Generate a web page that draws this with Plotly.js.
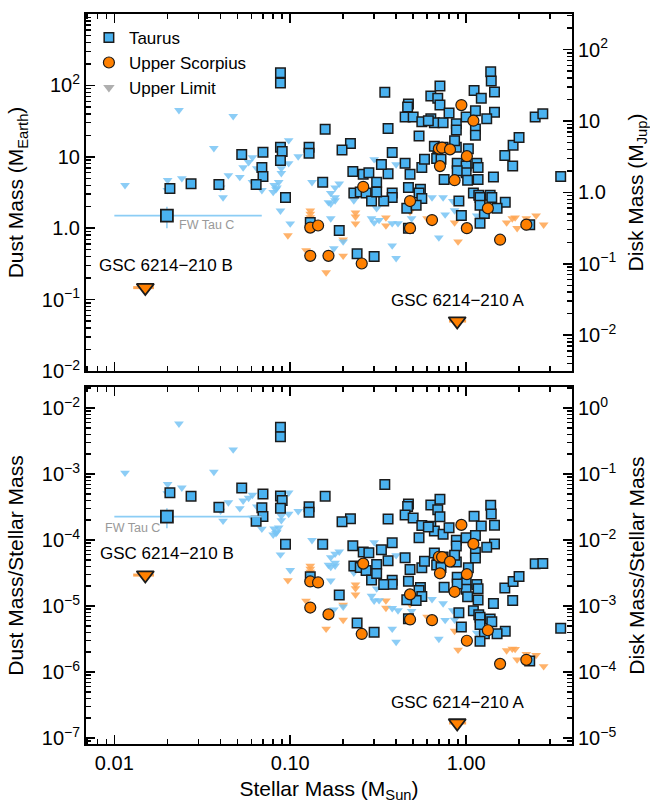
<!DOCTYPE html>
<html><head><meta charset="utf-8">
<script src="https://cdn.plot.ly/plotly-3.0.1.min.js"></script>
<style>html,body{margin:0;padding:0;background:#fff}#chart{width:650px;height:806px}</style>
</head><body><div id="chart"></div>
<script>
// ---------- data (stellar mass in M_Sun, dust mass in M_Earth) ----------
const taurusMass = [0.0207,0.0273,0.0393,0.053,0.070,0.069,0.070,0.064,0.088,0.088,0.088,0.090,0.088,0.094,0.128,0.128,0.158,0.153,0.130,0.190,0.240,0.300,0.220,0.197,0.227,0.260,0.280,0.310,0.360,0.330,0.380,0.230,0.250,0.345,0.470,0.465,0.360,0.380,0.450,0.500,0.560,0.630,0.660,0.740,0.880,0.880,0.630,0.690,0.710,0.710,0.800,1.00,1.11,1.22,1.38,1.39,1.45,1.13,1.45,1.31,2.47,2.73,1.13,1.13,0.54,0.66,0.74,0.88,1.03,0.69,0.89,1.66,1.84,1.85,2.00,3.45,0.45,0.48,0.56,0.58,0.68,1.00,1.15,1.17,1.00,0.89,0.47,0.55,0.54,0.75,1.02,1.17,1.43,1.10,1.18,1.37,0.27,0.56,0.46,0.52,0.38,0.34,0.29,0.31,0.91,0.94,1.20,1.40,1.67,1.50,1.27,1.20,1.20,2.30,0.47,0.86,0.61,0.72];
const taurusDust = [3.6,4.2,4.1,10.8,11.6,7.1,5.3,4.1,150,108,13.6,11.9,8.9,2.7,13.6,11.2,24.3,4.4,1.2,0.93,0.44,0.40,15.4,12.4,6.2,5.7,6.0,4.4,5.8,7.8,3.1,3.1,3.2,80,55,50,25,11.5,36,36,31,34,30,30,29,23.7,71,66,98,53,41,36,85,66,155,115,81,44,42,34,36,40,24.5,20,19.5,14,13.6,13.6,13,10,8.1,10.4,7.4,14.5,18.7,5.3,8.1,5.7,7.1,9.2,9.5,7.4,8.1,7.1,6.0,6.4,3.7,3.5,3.1,4.8,4.7,4.8,5.2,3.1,2.9,2.9,3.1,2.6,1.9,2.1,2.7,2.4,2.4,3.2,2.4,1.5,2.7,2.7,2.3,1.9,1.6,2.1,1.17,1.12,1.0,16.8,32,9.2];

const uscoMass = [0.94,1.10,0.70,0.73,0.81,1.01,0.71,0.86,0.26,0.48,1.33,0.64,0.48,1.01,1.56,2.20,0.130,0.144,0.130,0.165,0.255];
const uscoDust = [53,32,13,13.4,12.7,10.2,7.4,4.7,3.8,2.4,1.9,1.3,1.0,1.0,0.69,1.12,1.02,1.09,0.41,0.41,0.32];

const taurusLimMass = [0.0233,0.0474,0.0115,0.0201,0.0242,0.0368,0.0200,0.0402,0.0415,0.0445,0.0517,0.054,0.058,0.061,0.0646,0.069,0.081,0.086,0.089,0.089,0.098,0.098,0.111,0.133,0.061,0.084,0.080,0.083,0.088,0.100,0.165,0.180,0.190,0.170,0.200,0.177,0.230,0.250,0.290,0.640,0.740,0.840,0.860,0.760,0.490,0.410,0.310,0.300,0.700,0.380,0.400,1.15,0.32,0.38,0.17,0.30,0.32,0.40,0.18,0.17,0.18,1.60];
const taurusLimDust = [45,37,4.0,4.7,5.0,13.2,3.4,3.7,2.7,5.5,5.2,7.1,8.4,9.8,6.9,3.4,4.0,4.4,5.9,6.9,8.1,17,10.1,4.4,4.4,3.7,3.2,3.5,1.76,1.16,2.3,2.45,4.2,1.37,0.65,0.52,2.45,0.30,1.37,2.7,2.7,2.4,1.77,1.55,1.37,1.17,1.9,1.2,0.74,0.57,0.38,1.5,1.3,1.17,2.2,9.2,8.3,7.8,3.7,3.1,2.7,2.1];

const uscoLimMass = [0.130,0.130,0.130,0.097,0.123,0.160,0.200,0.235,0.235,0.235,0.200,0.350,0.350,0.600,0.860,0.900,1.70,1.83,1.90,1.95,2.50,2.76,2.20,0.48];
const uscoLimDust = [1.76,1.58,1.42,0.79,0.49,0.24,0.41,1.65,1.45,1.16,0.69,1.41,1.09,1.37,1.20,0.65,1.20,1.37,1.41,1.00,1.50,1.12,1.37,1.7];

// FW Tau C (Taurus, with error bars)
const fwMass = [0.0199];
const fwDust = [1.5];
const fwMassErrMinus = [0.0099];
const fwMassErrPlus = [0.049];
const fwDustErr = [0.5];

// GSC 6214-210 B and A (Upper Scorpius upper limits)
const gscNames = ['GSC 6214\u2212210 B','GSC 6214\u2212210 A'];
const gscMass = [0.015,0.89];
const gscDust = [0.147,0.05];
const gscMassErrMinus = [0.0022,0.09];
const gscMassErrPlus = [0.0018,0.11];

const EARTH_PER_SUN = 3.003e-6;   // M_Earth / M_Sun
const DISK_PER_DUST_JUP = 100/317.83; // gas-to-dust 100, M_Earth -> M_Jup

const ratio = (dust, mass) => dust.map((d,i)=> d*EARTH_PER_SUN/mass[i]);

// ---------- styles ----------
const C_TAU = 'rgb(74,178,240)';
const C_TAU_LIM = 'rgba(120,196,245,0.85)';
const C_USC = 'rgb(255,128,0)';
const C_USC_LIM = 'rgba(255,165,80,0.85)';
const EDGE = '#1b1b1b';

const traces = [];
function addPair(mass, dust, marker, legend, extraTop, extraBot){
  traces.push(Object.assign({type:'scatter', mode:'markers', x:mass, y:dust, xaxis:'x2', yaxis:'y',
    marker:marker, hoverinfo:'skip', showlegend:!!legend, name:legend||''}, extraTop||{}));
  traces.push(Object.assign({type:'scatter', mode:'markers', x:mass, y:ratio(dust,mass), xaxis:'x', yaxis:'y3',
    marker:marker, hoverinfo:'skip', showlegend:false}, extraBot||{}));
}

addPair(uscoLimMass, uscoLimDust, {symbol:'triangle-down', size:8.5, color:C_USC_LIM, line:{width:0}});
addPair(taurusLimMass, taurusLimDust, {symbol:'triangle-down', size:8.5, color:C_TAU_LIM, line:{width:0}});
addPair(taurusMass, taurusDust, {symbol:'square', size:9.5, color:C_TAU, line:{color:EDGE, width:1.5}}, 'Taurus');
addPair(uscoMass, uscoDust, {symbol:'circle', size:11, color:C_USC, line:{color:EDGE, width:1.2}}, 'Upper Scorpius');

// FW Tau C
const fwRatioErr = fwDustErr.map((e,i)=> e*EARTH_PER_SUN/fwMass[i]);
const fwErrColor = 'rgb(140,205,245)';
addPair(fwMass, fwDust, {symbol:'square', size:12, color:C_TAU, line:{color:EDGE, width:1.8}}, null,
  {error_x:{type:'data', symmetric:false, array:fwMassErrPlus, arrayminus:fwMassErrMinus, color:fwErrColor, thickness:1.8, width:0},
   error_y:{type:'data', array:fwDustErr, color:fwErrColor, thickness:1.5, width:0}},
  {error_x:{type:'data', symmetric:false, array:fwMassErrPlus, arrayminus:fwMassErrMinus, color:fwErrColor, thickness:1.8, width:0},
   error_y:{type:'data', array:fwRatioErr, color:fwErrColor, thickness:1.5, width:0}});

// GSC 6214-210
const gscErr = {type:'data', symmetric:false, array:gscMassErrPlus, arrayminus:gscMassErrMinus, color:'rgb(255,165,80)', thickness:3, width:0};
addPair(gscMass, gscDust, {symbol:'triangle-down', size:15, color:C_USC, line:{color:EDGE, width:1.8}}, null,
  {error_x:gscErr}, {error_x:gscErr});

// legend-only entry
traces.push({type:'scatter', mode:'markers', x:[null], y:[null], xaxis:'x2', yaxis:'y', name:'Upper Limit',
  marker:{symbol:'triangle-down', size:10, color:'rgb(175,175,175)'}, showlegend:true, hoverinfo:'skip'});
// anchor traces for the right-hand axes
traces.push({type:'scatter', mode:'markers', x:[], y:[], xaxis:'x2', yaxis:'y2', showlegend:false, hoverinfo:'skip'});
traces.push({type:'scatter', mode:'markers', x:[], y:[], xaxis:'x', yaxis:'y4', showlegend:false, hoverinfo:'skip'});

// ---------- axes ----------
const FONT = '"Liberation Sans", Arial, Helvetica, sans-serif';
function minorVals(lo, hi){ const v=[]; for(let e=lo;e<=hi;e++){ for(let d=2; d<=9; d++){ v.push(d*Math.pow(10,e)); } } return v; }
function pow10Label(e){ return e===0 ? '10<sup>0</sup>' : '10<sup>' + (e<0 ? '\u2212'+(-e) : e) + '</sup>'; }
const common = {type:'log', showline:true, linecolor:'#000', linewidth:2, ticks:'inside', ticklen:9, tickwidth:1.6, tickcolor:'#000',
  showgrid:false, zeroline:false, tickfont:{family:FONT, size:20, color:'#000'}, tickmode:'array'};
const minorStyle = (vals)=>({ticks:'inside', ticklen:5, tickwidth:1.4, tickcolor:'#000', showgrid:false, tickmode:'array', tickvals:vals});

const xRange = [Math.log10(0.0069), Math.log10(4.0)];
const xTickVals = [0.01, 0.1, 1];
const xTickText = ['0.01','0.10','1.00'];

const topLeftVals = [0.01,0.1,1,10,100,1000];
const topLeftText = [pow10Label(-2), pow10Label(-1), '1.0', '10', pow10Label(2), pow10Label(3)];
const topRightVals = [0.01,0.1,1,10,100];
const topRightText = [pow10Label(-2), pow10Label(-1), '1.0', '10', pow10Label(2)];
const botLeftExp = [-7,-6,-5,-4,-3,-2];
const botRightExp = [-5,-4,-3,-2,-1,0];

const topRange = [-2, 3];
const botRange = [-7.091, -1.682];

const layout = {
  width:650, height:806,
  margin:{l:86, r:78, t:14, b:62},
  paper_bgcolor:'#fff', plot_bgcolor:'#fff',
  font:{family:FONT, color:'#000'},
  showlegend:true,
  legend:{x:0.006, y:0.992, xanchor:'left', yanchor:'top', bgcolor:'rgba(0,0,0,0)', borderwidth:0,
    font:{family:FONT, size:17, color:'#000'}, tracegroupgap:0, traceorder:'normal'},
  xaxis: Object.assign({}, common, {domain:[0,1], anchor:'y3', range:xRange, mirror:'ticks',
    tickvals:xTickVals, ticktext:xTickText, minor:minorStyle(minorVals(-3,0)),
    title:{text:'Stellar Mass (M<sub>Sun</sub>)', font:{family:FONT, size:21, color:'#000'}, standoff:8}}),
  xaxis2: Object.assign({}, common, {domain:[0,1], anchor:'y', range:xRange, mirror:'ticks', showticklabels:false,
    tickvals:xTickVals, minor:minorStyle(minorVals(-3,0))}),
  yaxis: Object.assign({}, common, {domain:[0.511,1], anchor:'x2', range:topRange, mirror:true,
    tickvals:topLeftVals, ticktext:topLeftText, minor:minorStyle(minorVals(-2,2)),
    title:{text:'Dust Mass (M<sub>Earth</sub>)', font:{family:FONT, size:21, color:'#000'}, standoff:12}}),
  yaxis2: Object.assign({}, common, {overlaying:'y', side:'right', anchor:'x2',
    range:[Math.log10(1e-2*DISK_PER_DUST_JUP), Math.log10(1e3*DISK_PER_DUST_JUP)],
    tickvals:topRightVals, ticktext:topRightText, minor:minorStyle(minorVals(-3,2)),
    title:{text:'Disk Mass (M<sub>Jup</sub>)', font:{family:FONT, size:21, color:'#000'}, standoff:14}}),
  yaxis3: Object.assign({}, common, {domain:[0,0.489], anchor:'x', range:botRange, mirror:true,
    tickvals:botLeftExp.map(e=>Math.pow(10,e)), ticktext:botLeftExp.map(pow10Label), minor:minorStyle(minorVals(-8,-2)),
    title:{text:'Dust Mass/Stellar Mass', font:{family:FONT, size:21, color:'#000'}, standoff:12}}),
  yaxis4: Object.assign({}, common, {overlaying:'y3', side:'right', anchor:'x',
    range:[botRange[0]+2, botRange[1]+2],
    tickvals:botRightExp.map(e=>Math.pow(10,e)), ticktext:botRightExp.map(pow10Label), minor:minorStyle(minorVals(-6,0)),
    title:{text:'Disk Mass/Stellar Mass', font:{family:FONT, size:21, color:'#000'}, standoff:14}}),
  annotations:[
    {xref:'paper', yref:'paper', x:0.1646, y:0.6548, text:gscNames[0], showarrow:false, xanchor:'center', yanchor:'middle', font:{family:FONT, size:17, color:'#000'}},
    {xref:'paper', yref:'paper', x:0.7654, y:0.6075, text:gscNames[1], showarrow:false, xanchor:'center', yanchor:'middle', font:{family:FONT, size:17, color:'#000'}},
    {xref:'paper', yref:'paper', x:0.1872, y:0.711, text:'FW Tau C', showarrow:false, xanchor:'left', yanchor:'middle', font:{family:FONT, size:12.5, color:'#999'}},
    {xref:'paper', yref:'paper', x:0.035, y:0.2959, text:'FW Tau C', showarrow:false, xanchor:'left', yanchor:'middle', font:{family:FONT, size:12.5, color:'#999'}},
    {xref:'paper', yref:'paper', x:0.1667, y:0.2603, text:gscNames[0], showarrow:false, xanchor:'center', yanchor:'middle', font:{family:FONT, size:17, color:'#000'}},
    {xref:'paper', yref:'paper', x:0.7654, y:0.0575, text:gscNames[1], showarrow:false, xanchor:'center', yanchor:'middle', font:{family:FONT, size:17, color:'#000'}}
  ]
};

Plotly.newPlot('chart', traces, layout, {staticPlot:true, displayModeBar:false});
</script>
</body></html>
